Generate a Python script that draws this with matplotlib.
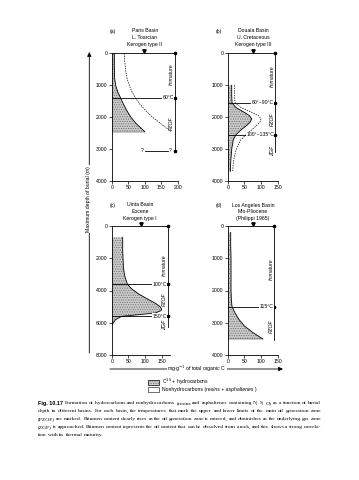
import matplotlib
matplotlib.use('Agg')
import matplotlib.pyplot as plt
from matplotlib.patches import Rectangle

# ---------------- data ----------------
# (a) Paris Basin
a_hc_depth = [0, 400, 800, 1000, 1200, 1400, 1600, 1800, 2000, 2200, 2450]
a_hc = [8, 8, 9, 12, 18, 27, 36, 46, 58, 74, 100]
a_nhc_depth = [0, 200, 400, 600, 800, 1000, 1200, 1400, 1600, 1800, 2000, 2200, 2450]
a_nhc = [38, 39, 41, 43, 47, 53, 61, 72, 86, 103, 124, 148, 180]
# (b) Douala Basin
b_hc_depth = [1000, 1300, 1550, 1700, 1850, 1950, 2050, 2150, 2250, 2400, 2550, 2700, 3000, 3400, 3700]
b_hc = [12, 12, 13, 25, 50, 65, 72, 68, 58, 40, 25, 17, 12, 9, 8]
b_nhc_depth = [1000, 1300, 1550, 1700, 1850, 1950, 2050, 2150, 2250, 2400, 2550, 2700, 2900, 3100, 3400, 3700]
b_nhc = [20, 20, 22, 40, 72, 92, 100, 97, 88, 72, 55, 40, 30, 23, 17, 15]
# (c) Uinta Basin
c_hc_depth = [700, 1000, 1500, 2000, 2500, 3000, 3300, 3600, 3900, 4200, 4500, 4800, 5000, 5150, 5250, 5400, 5500, 5600, 5800, 6000, 6100]
c_hc = [33, 33, 33, 34, 35, 38, 42, 47, 60, 80, 105, 132, 145, 150, 148, 130, 80, 30, 12, 5, 2]
# (d) Los Angeles Basin
d_hc_depth = [200, 600, 1000, 1500, 2000, 2300, 2500, 2700, 2900, 3100, 3300, 3500]
d_hc = [9, 9, 10, 10, 10, 11, 13, 22, 34, 50, 75, 105]

titles = {
    'a': ['Paris Basin', 'L. Toarcian', 'Kerogen type II'],
    'b': ['Douala Basin', 'U. Cretaceous', 'Kerogen type III'],
    'c': ['Uinta Basin', 'Eocene', 'Kerogen type I'],
    'd': ['Los Angeles Basin', 'Mio-Pliocene', '(Philippi 1965)'],
}

caption_lines = [
    "Formation of hydrocarbons and nonhydrocarbons (resins and asphaltenes containing N, S, O) as a function of burial",
    "depth in different basins. For each basin, the temperatures that mark the upper and lower limits of the main oil generation zone",
    "(PZOF) are marked. Bitumen content clearly rises as the oil generation zone is entered, and diminishes as the underlying gas zone",
    "(ZGF) is approached. Bitumen content represents the oil content that can be dissolved from a rock, and this shows a strong correla-",
    "tion with its thermal maturity.",
]

# ---------------- figure ----------------
W, H = 359, 480
plt.rcParams['font.family'] = ['Liberation Sans', 'DejaVu Sans']
plt.rcParams['hatch.linewidth'] = 0.5
fig = plt.figure(figsize=(W / 100, H / 100), dpi=100)
fig.patch.set_facecolor('white')

ov = fig.add_axes([0, 0, 1, 1])
ov.set_xlim(0, W)
ov.set_ylim(H, 0)
ov.axis('off')

FS = 3.7
LW = 0.6
HATCH_FC = '#cccccc'
HATCH_EC = '#6a6a6a'


def panel(px, xmax, ymax, xticks, yticks):
    x0, y0, x1, y1 = px
    ax = fig.add_axes([x0 / W, 1 - y1 / H, (x1 - x0) / W, (y1 - y0) / H])
    ax.set_xlim(0, xmax)
    ax.set_ylim(ymax, 0)
    ax.patch.set_alpha(0)
    for s in ['top', 'right']:
        ax.spines[s].set_visible(False)
    for s in ['left', 'bottom']:
        ax.spines[s].set_linewidth(LW)
    ax.set_xticks(xticks)
    ax.set_yticks(yticks)
    ax.tick_params(direction='out', length=2, width=0.5, labelsize=FS, pad=1)
    return ax


def frame(ax, ymax, bar_x, bar_end, dots, tri_x):
    ax.plot([0, bar_x], [0, 0], color='k', lw=LW, clip_on=False)
    ax.plot([bar_x, bar_x], [0, bar_end], color='k', lw=LW, clip_on=False)
    ax.plot([bar_x] * len(dots), dots, 'o', color='k', ms=1.6, clip_on=False)
    ax.plot([tri_x], [-ymax * 0.018], marker='v', color='k', ms=2.4, clip_on=False)


def temp(ax, d, bar_x, label):
    ax.plot([0, bar_x], [d, d], color='k', lw=LW, zorder=3)
    ax.text(bar_x - 3, d, label, ha='right', va='center', fontsize=FS, zorder=4,
            bbox=dict(facecolor='white', edgecolor='none', pad=0.3))


def ztext(ax, x, d, label):
    ax.text(x, d, label, rotation=90, ha='center', va='center', fontsize=FS, style='italic')


def hc(ax, depth, vals):
    ax.fill_betweenx(depth, 0, vals, facecolor=HATCH_FC, hatch='.......', edgecolor=HATCH_EC,
                     linewidth=0, zorder=1)
    ax.plot(vals, depth, color='k', lw=LW, zorder=2)


# (a)
axa = panel((111.7, 53.3, 177.7, 181), 200, 4000, [0, 50, 100, 150, 200], [0, 1000, 2000, 3000, 4000])
hc(axa, a_hc_depth, a_hc)
axa.plot([0, a_hc[-1]], [a_hc_depth[-1]] * 2, color='k', lw=0.3)
axa.plot(a_nhc, a_nhc_depth, color='k', lw=0.5, ls=(0, (2, 1.5)))
frame(axa, 4000, 192, 3050, [0, 1400, 3050], 98)
temp(axa, 1400, 192, '60°C')
ztext(axa, 180, 650, 'Immature')
ztext(axa, 180, 2200, 'PZOF')
axa.plot([100, 172], [3050, 3050], color='k', lw=LW)
axa.text(97, 3050, '?', ha='right', va='center', fontsize=FS)
axa.text(177, 3050, '?', ha='center', va='center', fontsize=FS)

# (b)
axb = panel((227.7, 53.3, 277.7, 181), 150, 4000, [0, 50, 100, 150], [0, 1000, 2000, 3000, 4000])
hc(axb, b_hc_depth, b_hc)
axb.plot(b_nhc, b_nhc_depth, color='k', lw=0.5, ls=(0, (2, 1.5)))
frame(axb, 4000, 142, 3100, [0, 1550, 2550], 75)
temp(axb, 1550, 142, '60°~90°C')
temp(axb, 2550, 142, '100°~135°C')
ztext(axb, 134, 730, 'Immature')
ztext(axb, 134, 2050, 'PZOF')
ztext(axb, 134, 3050, 'ZGF')

# (c)
axc = panel((111.7, 226, 170, 355), 175, 8000, [0, 50, 100, 150], [0, 2000, 4000, 6000, 8000])
hc(axc, c_hc_depth, c_hc)
frame(axc, 8000, 168, 6250, [0, 3600, 5600], 87)
temp(axc, 3600, 168, '100°C')
temp(axc, 5600, 168, '150°C')
ztext(axc, 158, 2450, 'Immature')
ztext(axc, 158, 4550, 'PZOF')
ztext(axc, 158, 6150, 'ZGF')

# (d)
axd = panel((227.7, 226, 277.7, 355), 150, 4000, [0, 50, 100, 150], [0, 1000, 2000, 3000, 4000])
hc(axd, d_hc_depth, d_hc)
axd.plot([0, d_hc[-1]], [d_hc_depth[-1]] * 2, color='k', lw=0.3)
frame(axd, 4000, 140, 3550, [0, 2500], 77)
temp(axd, 2500, 140, '115°C')
ztext(axd, 132, 1350, 'Immature')
ztext(axd, 132, 3120, 'PZOF')

# titles
for key, lx, cx, ty in [('a', 113, 145, 31), ('b', 219, 253, 31), ('c', 113, 140, 205), ('d', 219, 253, 205)]:
    ov.text(lx, ty, f'({key})', ha='center', va='center', fontsize=FS)
    for i, t in enumerate(titles[key]):
        ov.text(cx, ty + i * 6.7, t, ha='center', va='center', fontsize=FS)

# y label with arrow
ov.annotate('', xy=(89.3, 52), xytext=(89.3, 353),
            arrowprops=dict(arrowstyle='-|>,head_length=0.25,head_width=0.12', lw=LW, color='k',
                            shrinkA=0, shrinkB=0))
ov.text(88.8, 199, 'Maximum depth of burial (m)', rotation=90, ha='center', va='center', fontsize=FS,
        bbox=dict(facecolor='white', edgecolor='none', pad=0.6))

# x label with arrow
ov.annotate('', xy=(283, 369), xytext=(110, 369),
            arrowprops=dict(arrowstyle='-|>,head_length=0.25,head_width=0.12', lw=LW, color='k',
                            shrinkA=0, shrinkB=0))
ov.text(197, 369, 'mg·g$^{-1}$ of total organic C', ha='center', va='center', fontsize=FS,
        bbox=dict(facecolor='white', edgecolor='none', pad=0.6))

# legend
ov.add_patch(Rectangle((148, 380), 11, 4.5, facecolor=HATCH_FC, hatch='.......', edgecolor=HATCH_EC, lw=0.4))
ov.add_patch(Rectangle((148, 380), 11, 4.5, facecolor='none', edgecolor='k', lw=0.4))
ov.add_patch(Rectangle((148, 387), 11, 4.5, facecolor='white', edgecolor='k', lw=0.4))
ov.text(162, 382.2, 'C$^{15}$ + hydrocarbons', ha='left', va='center', fontsize=FS)

renderer = fig.canvas.get_renderer()
t1 = ov.text(162, 389.2, 'Nonhydrocarbons (', ha='left', va='center', fontsize=FS)
w1 = t1.get_window_extent(renderer).width
t2 = ov.text(162 + w1, 389.2, 'resins + asphaltenes', ha='left', va='center', fontsize=FS, style='italic')
w2 = t2.get_window_extent(renderer).width
ov.text(162 + w1 + w2, 389.2, ')', ha='left', va='center', fontsize=FS)

# ---------------- caption (justified, one text per word) ----------------
CX0, CX1 = 38, 321
cap_y = [403, 411, 419, 427, 435]
CFS = 4.0
CAP_FONT = ['Liberation Serif']

probe = ov.text(0, -50, '', fontsize=CFS, family=CAP_FONT)


def width(s, fs):
    probe.set_text(s)
    probe.set_fontsize(fs)
    return probe.get_window_extent(renderer).width


bold = ov.text(CX0, cap_y[0], 'Fig. 10.17', ha='left', va='center', fontsize=CFS,
               weight='bold', family=['Liberation Sans'])
bw = bold.get_window_extent(renderer).width + 1.8

fits = []
for li, line in enumerate(caption_lines[:-1]):
    x0 = CX0 + (bw if li == 0 else 0)
    target = CX1 - x0
    fs = CFS
    for _ in range(3):
        fs = fs * target / width(line, fs)
    fits.append(fs)
cfs = sorted(fits)[-2]

for li, line in enumerate(caption_lines):
    x0 = CX0 + (bw if li == 0 else 0)
    words = line.split()
    starts = [0.0]
    for i in range(1, len(words)):
        starts.append(width(' '.join(words[:i + 1]), cfs) - width(words[i], cfs))
    last = li == len(caption_lines) - 1
    if last or len(words) < 2:
        extra = 0.0
    else:
        extra = max(-0.6, ((CX1 - x0) - width(line, cfs)) / (len(words) - 1))
    for i, w in enumerate(words):
        ov.text(x0 + starts[i] + i * extra, cap_y[li], w, ha='left', va='center',
                fontsize=cfs, family=CAP_FONT)
probe.set_text('')

fig.savefig('out.png', dpi=100, facecolor='white')
